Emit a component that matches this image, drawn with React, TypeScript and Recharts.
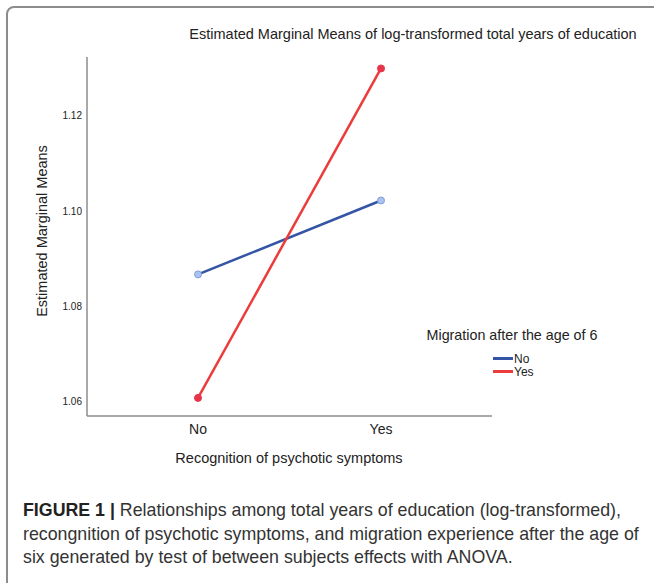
import { Line, LineChart, XAxis, YAxis } from "recharts";

const categories = ["No", "Yes"];
const migrationNo = [1.0867, 1.1022];
const migrationYes = [1.0608, 1.1299];
const yTicks = [1.06, 1.08, 1.1, 1.12];

const data = categories.map((name, i) => ({
  name,
  no: migrationNo[i],
  yes: migrationYes[i],
}));

const BLUE = "#3454a6";
const RED = "#ec3b3b";
const FONT = "'Liberation Sans', Arial, sans-serif";

function LegendBox() {
  return (
    <div style={{ fontFamily: FONT, color: "#222", width: 190 }}>
      <div style={{ fontSize: 14.3, textAlign: "center", marginBottom: 9 }}>
        Migration after the age of 6
      </div>
      {[
        { label: "No", color: BLUE },
        { label: "Yes", color: RED },
      ].map((item) => (
        <div
          key={item.label}
          style={{ display: "flex", alignItems: "center", height: 13, paddingLeft: 76, fontSize: 12 }}
        >
          <span style={{ width: 20, height: 3, background: item.color, display: "inline-block" }} />
          <span style={{ marginLeft: 1 }}>{item.label}</span>
        </div>
      ))}
    </div>
  );
}

export default function App() {
  return (
    <div
      style={{
        position: "fixed",
        left: 0,
        top: 0,
        width: 654,
        height: 583,
        overflow: "hidden",
        background: "#fff",
      }}
    >
      <div
        style={{
          position: "absolute",
          left: 6,
          top: 6,
          width: 680,
          height: 620,
          border: "2px solid #8c8c8c",
          borderRadius: 8,
        }}
      />
      <div
        style={{
          position: "absolute",
          left: 113,
          width: 600,
          top: 26,
          textAlign: "center",
          fontFamily: FONT,
          fontSize: 14.5,
          color: "#222",
        }}
      >
        Estimated Marginal Means of log-transformed total years of education
      </div>
      <div
        style={{
          position: "absolute",
          left: 42,
          top: 231,
          transform: "translate(-50%, -50%) rotate(-90deg)",
          whiteSpace: "nowrap",
          fontFamily: FONT,
          fontSize: 14.5,
          color: "#222",
        }}
      >
        Estimated Marginal Means
      </div>
      <div
        style={{
          position: "absolute",
          left: 139,
          width: 300,
          top: 450,
          textAlign: "center",
          whiteSpace: "nowrap",
          fontFamily: FONT,
          fontSize: 14.5,
          color: "#222",
        }}
      >
        Recognition of psychotic symptoms
      </div>
      <div style={{ position: "absolute", left: 417, top: 327 }}>
        <LegendBox />
      </div>
      <div style={{ position: "absolute", left: 0, top: 0 }}>
        <LineChart
          width={654}
          height={480}
          data={data}
          margin={{ top: 57, right: 162, bottom: 34, left: 47 }}
        >
          <XAxis
            dataKey="name"
            padding={{ left: 111, right: 111 }}
            height={30}
            tickLine={false}
            tickSize={0}
            tickMargin={8}
            axisLine={{ stroke: "#8c8c8c", strokeWidth: 1.5 }}
            tick={{ fontSize: 14, fill: "#222", fontFamily: FONT }}
          />
          <YAxis
            width={40}
            domain={[1.057, 1.1323]}
            ticks={yTicks}
            tickFormatter={(v: number) => v.toFixed(2)}
            tickLine={false}
            tickSize={0}
            tickMargin={5}
            axisLine={{ stroke: "#8c8c8c", strokeWidth: 1.5 }}
            tick={{ fontSize: 10, fill: "#222", fontFamily: FONT }}
            allowDataOverflow
          />
          <Line
            dataKey="no"
            name="No"
            stroke={BLUE}
            strokeWidth={2.5}
            dot={{ r: 3.5, fill: "#a9c3ee", stroke: "#7d9fdc", strokeWidth: 1 }}
            isAnimationActive={false}
          />
          <Line
            dataKey="yes"
            name="Yes"
            stroke={RED}
            strokeWidth={2.5}
            dot={{ r: 3.5, fill: "#e8344a", stroke: "#e8344a", strokeWidth: 1 }}
            isAnimationActive={false}
          />
        </LineChart>
      </div>
      <div
        style={{
          position: "absolute",
          left: 23,
          top: 499,
          fontFamily: FONT,
          fontSize: 17.8,
          lineHeight: "23.5px",
          color: "#333",
          whiteSpace: "nowrap",
        }}
      >
        <b style={{ color: "#222" }}>FIGURE 1 |</b> Relationships among total years of education (log-transformed),
        <br />
        recongnition of psychotic symptoms, and migration experience after the age of
        <br />
        six generated by test of between subjects effects with ANOVA.
      </div>
    </div>
  );
}
